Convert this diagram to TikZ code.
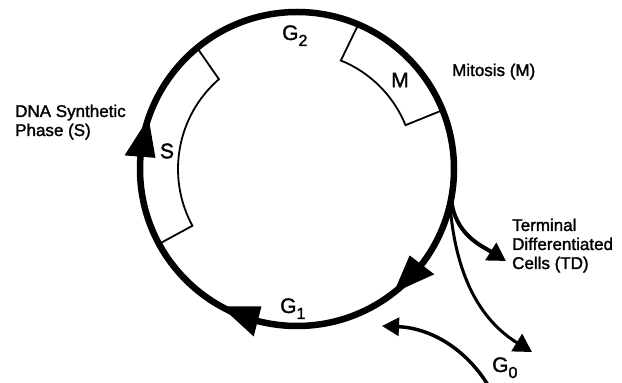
\documentclass[tikz,border=0pt]{standalone}
\usepackage{fontspec}
\setmainfont{Liberation Sans}
\newfontfamily\heavysans{Liberation Sans}[FakeBold=1.6]
\usetikzlibrary{arrows.meta,calc}

% filled arrowhead sitting on the cycle ring, tip at polar angle #1
\newcommand\cycletip[1]{%
  \fill ($(C)+(#1:157)$) -- ($(C)+(#1+14.5:142)$) -- ($(C)+(#1+14.5:173)$) -- cycle;}
% lowered index for the phase names
\newcommand\phsub[1]{\raisebox{-6pt}{\fontsize{16}{16}\selectfont #1}}

\tikzset{
  ring/.style={line width=6.5pt},
  phasebox/.style={line width=1.8pt, line join=miter},
  exitarrow/.style={line width=#1, -{Triangle[length=18pt,width=20pt]}},
  note/.style={font=\heavysans\fontsize{17}{19}\selectfont, inner sep=0pt, anchor=base west, align=left},
  phase/.style={font=\heavysans\fontsize{21}{24}\selectfont, inner sep=0pt},
}

\begin{document}
\begin{tikzpicture}[x=1pt,y=1pt]
\useasboundingbox (0,0) rectangle (622,383);

% the cycle ring
\coordinate (C) at (297,214);
\draw[ring] (C) circle[radius=157];

% S phase segment
\draw[phasebox] ($(C)+(129.5:157)$) -- ($(C)+(131:119)$)
  arc[start angle=131, end angle=208.5, radius=119] -- ($(C)+(208.5:157)$);
% M phase segment
\draw[phasebox] ($(C)+(67:157)$) -- ($(C)+(68:117)$)
  arc[start angle=68, end angle=22, radius=117] -- ($(C)+(22:157)$);

% direction of the cycle
\cycletip{161}
\cycletip{241}
\cycletip{308}

% exits from the cycle and re-entry from G0
\coordinate (B)  at ($(C)+(-11:157)$);
\coordinate (B2) at ($(C)+(-13:157)$);
\coordinate (TDtip) at (506,122);
\coordinate (G0tip) at (532,31);
\coordinate (Gin) at (488,-2);
\coordinate (Rtip) at (382,57);
\draw[exitarrow=4pt] (B) .. controls (455,148) and (482,137) .. (TDtip);
\draw[exitarrow=3pt] (B2) .. controls (456,100) and (485,60) .. (G0tip);
\draw[line width=3.5pt, -{Triangle[length=17pt,width=18pt]}]
  (Gin) .. controls (465,35) and (430,55) .. (Rtip);

% phase names
\node[phase, anchor=base west] (g2) at (282,343) {G\phsub{2}};
\node[phase, anchor=base west] (g1) at (280,70) {G\phsub{1}};
\node[phase, anchor=base west] (g0) at (492,11) {G\phsub{0}};
\node[phase] (m) at (400,303) {M};
\node[phase] (s) at (167,232) {S};

% descriptions (base anchor sits on the last line)
\node[note] (dna) at (15,247) {DNA Synthetic\\Phase (S)};
\node[note] (mit) at (452,307) {Mitosis (M)};
\node[note] (td) at (512,114) {Terminal\\Differentiated\\Cells (TD)};
\end{tikzpicture}
\end{document}
